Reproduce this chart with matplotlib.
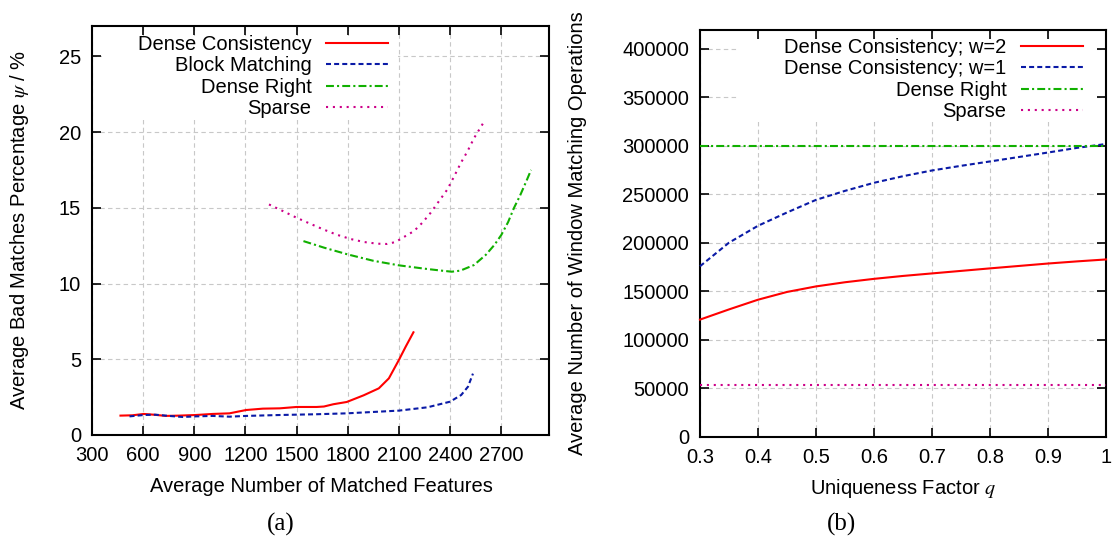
import matplotlib
matplotlib.use("Agg")
import matplotlib.pyplot as plt
from matplotlib.patches import Rectangle

plt.rcParams['font.family'] = ['Liberation Sans', 'DejaVu Sans']
plt.rcParams['mathtext.fontset'] = 'stix'

# ---------------- data: panel (a) ----------------
dc_x = [467, 536, 604, 663, 732, 811, 909, 1007, 1106, 1204, 1302, 1401, 1499, 1617,
        1660, 1715, 1794, 1893, 1982, 2041, 2100, 2140, 2185]
dc_y = [1.28, 1.30, 1.39, 1.34, 1.26, 1.28, 1.32, 1.39, 1.43, 1.65, 1.74, 1.76, 1.85, 1.85,
        1.88, 2.03, 2.18, 2.62, 3.08, 3.74, 4.96, 5.84, 6.78]

bm_x = [520, 604, 673, 752, 831, 909, 1007, 1106, 1204, 1401, 1617, 1794, 2100, 2268,
        2400, 2465, 2505, 2534]
bm_y = [1.23, 1.32, 1.34, 1.26, 1.19, 1.23, 1.26, 1.21, 1.26, 1.32, 1.37, 1.43, 1.61, 1.83,
        2.20, 2.64, 3.19, 4.05]

dr_x = [1540, 1660, 1800, 1950, 2100, 2250, 2350, 2410, 2460, 2540, 2610, 2660, 2700,
        2740, 2775, 2810, 2845, 2875]
dr_y = [12.80, 12.37, 11.92, 11.50, 11.20, 10.98, 10.85, 10.78, 10.85, 11.22, 11.90, 12.55,
        13.20, 14.05, 15.00, 15.80, 16.70, 17.50]

sp_x = [1338, 1420, 1500, 1579, 1657, 1736, 1816, 1895, 1973, 2031, 2080, 2129, 2188, 2237,
        2286, 2335, 2384, 2424, 2463, 2502, 2541, 2600]
sp_y = [15.22, 14.78, 14.34, 13.95, 13.57, 13.22, 12.94, 12.74, 12.63, 12.61, 12.74, 13.07,
        13.46, 14.01, 14.67, 15.44, 16.21, 17.08, 17.96, 18.73, 19.61, 20.70]

a_xticks = [300, 600, 900, 1200, 1500, 1800, 2100, 2400, 2700]
a_yticks = [0, 5, 10, 15, 20, 25]
a_labels = ["Dense Consistency", "Block Matching", "Dense Right", "Sparse"]

# ---------------- data: panel (b) ----------------
q = [0.30, 0.35, 0.40, 0.45, 0.50, 0.55, 0.60, 0.65, 0.70, 0.75, 0.80, 0.85, 0.90, 0.95, 1.00]
w2 = [121000, 131500, 141500, 149500, 155200, 159500, 163000, 166000, 168600, 171200,
      173800, 176300, 178800, 181000, 183000]
w1 = [176000, 200300, 217700, 231400, 244400, 253700, 262000, 268800, 274700, 279500,
      284000, 288600, 293200, 298000, 302000]
q_const = [0.30, 1.00]
dense_right_ops = [300000, 300000]
sparse_ops = [53500, 53500]

b_xticks = [0.3, 0.4, 0.5, 0.6, 0.7, 0.8, 0.9, 1.0]
b_xticklabels = ["0.3", "0.4", "0.5", "0.6", "0.7", "0.8", "0.9", "1"]
b_yticks = [0, 50000, 100000, 150000, 200000, 250000, 300000, 350000, 400000]
b_labels = ["Dense Consistency; w=2", "Dense Consistency; w=1", "Dense Right", "Sparse"]

# ---------------- styles ----------------
RED = '#ff0000'
BLUE = '#0a1aa6'
GREEN = '#11b000'
MAGENTA = '#cc0088'
LW = 1.5
styles = [
    dict(color=RED, lw=LW, ls='-'),
    dict(color=BLUE, lw=LW, ls=(0, (2.4, 1.5))),
    dict(color=GREEN, lw=LW, ls=(0, (3.8, 1.5, 1.0, 1.5))),
    dict(color=MAGENTA, lw=LW, ls=(0, (1.0, 2.3))),
]

W, H = 1116, 543
fig = plt.figure(figsize=(W / 100, H / 100), dpi=100)
FS = 14.5


def px_axes(l, r, t, b):
    return [l / W, 1 - b / H, (r - l) / W, (b - t) / H]


def style_axes(ax):
    for s in ax.spines.values():
        s.set_linewidth(1.5)
    ax.tick_params(direction='in', length=6.5, width=1.2, top=True, right=True,
                   labelsize=FS, pad=8)
    ax.grid(True, color='#c8c8c8', lw=0.8, ls=(0, (4, 3)))
    ax.set_axisbelow(True)


def cover(ax, l, r, t, b, axbox):
    al, ar, at, ab = axbox
    x0 = (l - al) / (ar - al)
    x1 = (r - al) / (ar - al)
    y0 = (ab - b) / (ab - at)
    y1 = (ab - t) / (ab - at)
    ax.add_patch(Rectangle((x0, y0), x1 - x0, y1 - y0, transform=ax.transAxes,
                           fc='white', ec='none', zorder=1))


LEG = dict(bbox_transform=fig.transFigure, markerfirst=False, frameon=False,
           handlelength=3.1, handletextpad=0.7, labelspacing=0.12, borderpad=0,
           borderaxespad=0, fontsize=FS, loc='upper right')

# ---------------- panel (a) ----------------
boxA = (92, 549, 26, 435)
axA = fig.add_axes(px_axes(*boxA))
style_axes(axA)
axA.set_xlim(300, 2980)
axA.set_ylim(0, 27)
axA.set_xticks(a_xticks)
axA.set_yticks(a_yticks)
cover(axA, 92 + 10, 398, 26 + 10, 120, boxA)
for (xs, ys), st, lab in zip([(dc_x, dc_y), (bm_x, bm_y), (dr_x, dr_y), (sp_x, sp_y)],
                             styles, a_labels):
    axA.plot(xs, ys, label=lab, zorder=3, **st)
axA.legend(bbox_to_anchor=(388 / W, 1 - 35 / H), **LEG)

# ---------------- panel (b) ----------------
boxB = (700, 1106, 29.5, 437)
axB = fig.add_axes(px_axes(*boxB))
style_axes(axB)
axB.set_xlim(0.3, 1.0)
axB.set_ylim(0, 420000)
axB.set_xticks(b_xticks)
axB.set_xticklabels(b_xticklabels)
axB.set_yticks(b_yticks)
cover(axB, 738, 1106 - 10, 29.5 + 10, 122, boxB)
series_b = [(q, w2), (q, w1), (q_const, dense_right_ops), (q_const, sparse_ops)]
for (xs, ys), st, lab in zip(series_b, styles, b_labels):
    axB.plot(xs, ys, label=lab, zorder=3, clip_on=False, **st)
axB.legend(bbox_to_anchor=(1083 / W, 1 - 38 / H), **LEG)

# ---------------- labels ----------------
fig.text(20 / W, 1 - 230 / H, r"Average Bad Matches Percentage $\psi$ / %",
         rotation=90, ha='center', va='center', fontsize=FS)
fig.text(321 / W, 1 - 486.7 / H, "Average Number of Matched Features",
         ha='center', va='center', fontsize=FS)
fig.text(578 / W, 1 - 233 / H, "Average Number of Window Matching Operations",
         rotation=90, ha='center', va='center', fontsize=FS)
fig.text(903 / W, 1 - 489 / H, r"Uniqueness Factor $q$",
         ha='center', va='center', fontsize=FS)
fig.text(281 / W, 1 - 524 / H, "(a)", ha='center', va='center', fontsize=18,
         family=['Liberation Serif', 'DejaVu Serif'])
fig.text(841 / W, 1 - 524 / H, "(b)", ha='center', va='center', fontsize=18,
         family=['Liberation Serif', 'DejaVu Serif'])

fig.savefig("out.png", dpi=100)
